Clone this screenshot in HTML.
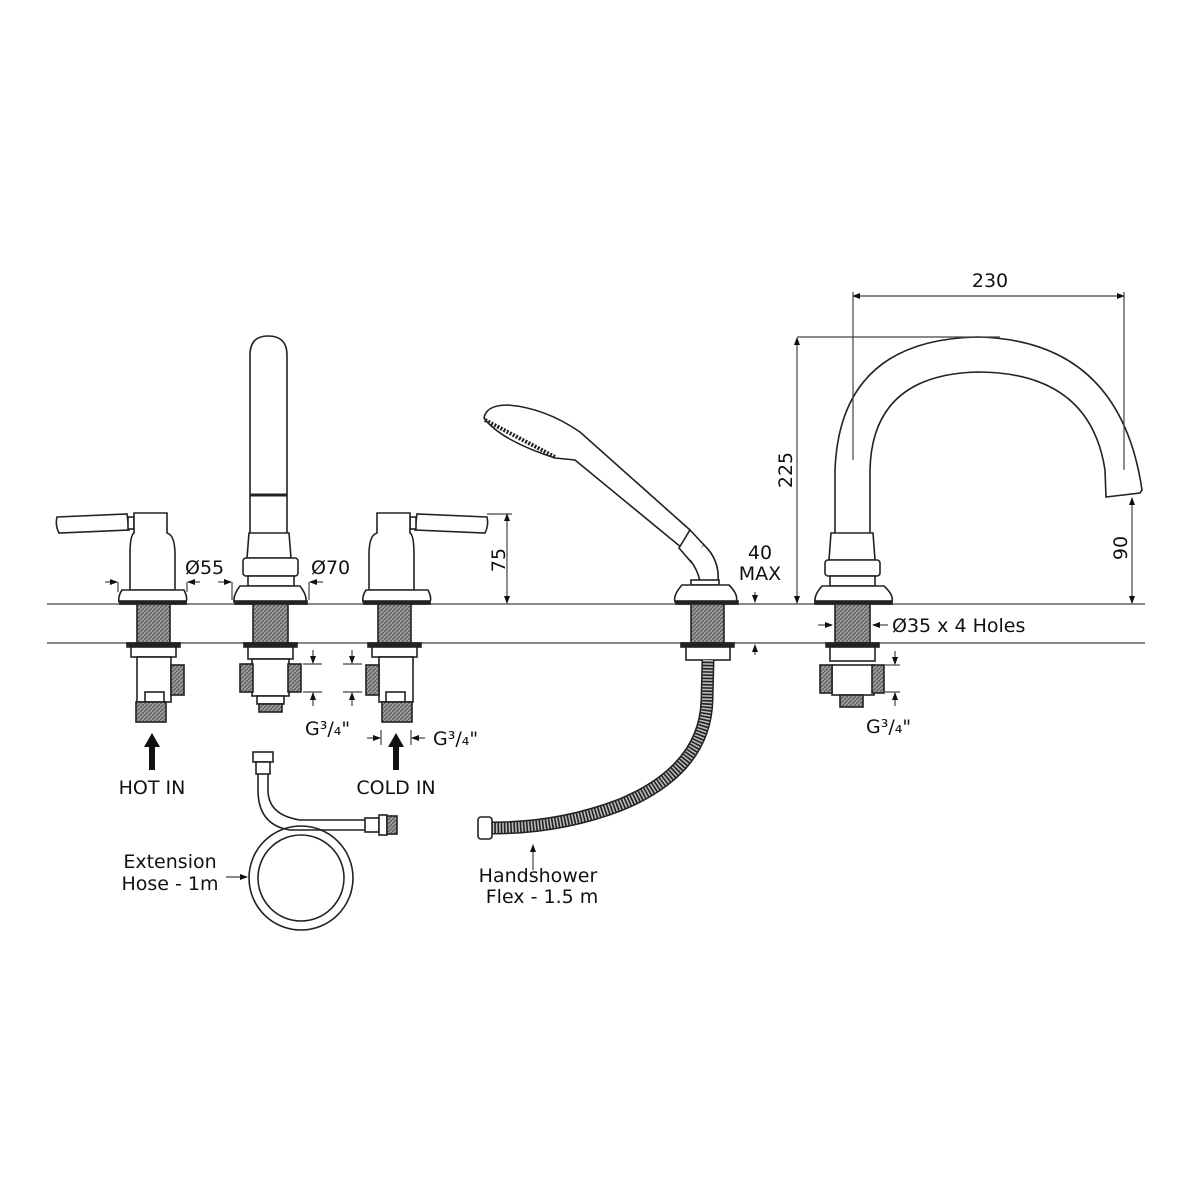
<!DOCTYPE html>
<html><head><meta charset="utf-8"><style>
html,body{margin:0;padding:0;background:#fff;}
svg{display:block;}
text{font-family:"DejaVu Sans","Liberation Sans",sans-serif;fill:#111;}
</style></head><body>
<svg width="1200" height="1200" viewBox="0 0 1200 1200" xmlns="http://www.w3.org/2000/svg">
<defs>
<pattern id="th" width="4" height="4" patternUnits="userSpaceOnUse"><rect width="4" height="4" fill="#999"/><path d="M0 4L4 0" stroke="#555" stroke-width="1"/></pattern>
<marker id="ar" markerWidth="8" markerHeight="8" refX="7" refY="4" orient="auto-start-reverse" markerUnits="userSpaceOnUse"><path d="M0 1L8 4L0 7Z" fill="#111"/></marker>
</defs>
<g stroke="#222" stroke-width="1.6" fill="none">
<line x1="47" y1="604" x2="1145" y2="604" stroke="#888" stroke-width="2"/>
<line x1="47" y1="643" x2="1145" y2="643" stroke="#888" stroke-width="2"/>

<g>
<path d="M57 517 L127 514 L129 530 L59 533 Q55 525 57 517Z" fill="#fff"/>
<rect x="128" y="517" width="6" height="12" fill="#fff"/>
<path d="M134 513 L167 513 L167 533 Q175 535 175 555 L175 590 L130 590 L130 555 Q130 535 134 533Z" fill="#fff"/>
<path d="M122 590 L184 590 Q188 598 186 602 L119 602 Q118 596 122 590Z" fill="#fff"/>
<rect x="120" y="601" width="66" height="3" fill="#222"/>
<rect x="137" y="604" width="33" height="39" fill="url(#th)"/>
<rect x="127" y="643" width="53" height="4" fill="#222"/>
<rect x="131" y="647" width="45" height="10" fill="#fff"/>
<rect x="137" y="657" width="34" height="45" fill="#fff"/>
<rect x="171" y="665" width="13" height="30" fill="url(#th)"/>
<rect x="145" y="692" width="19" height="10" fill="#fff"/>
<rect x="136" y="702" width="30" height="20" fill="url(#th)"/>
</g>

<g>
<path d="M250 533 L250 355 Q250 336 268 336 Q287 336 287 355 L287 533" fill="#fff"/>
<line x1="250" y1="495" x2="287" y2="495" stroke-width="3"/>
<path d="M249 533 L289 533 L291 558 L247 558Z" fill="#fff"/>
<rect x="243" y="558" width="55" height="18" rx="3" fill="#fff"/>
<rect x="248" y="576" width="46" height="10" fill="#fff"/>
<path d="M240 586 L300 586 Q307 595 306 602 L234 602 Q233 595 240 586Z" fill="#fff"/>
<rect x="235" y="601" width="72" height="3" fill="#222"/>
<rect x="253" y="604" width="35" height="39" fill="url(#th)"/>
<rect x="244" y="643" width="53" height="4" fill="#222"/>
<rect x="248" y="647" width="45" height="12" fill="#fff"/>
<rect x="252" y="659" width="37" height="37" fill="#fff"/>
<rect x="240" y="664" width="13" height="28" fill="url(#th)"/>
<rect x="288" y="664" width="13" height="28" fill="url(#th)"/>
<rect x="257" y="696" width="27" height="8" fill="#fff"/>
<rect x="259" y="704" width="23" height="8" fill="url(#th)"/>
</g>

<g>
<path d="M487 517 L417 514 L415 530 L485 533 Q489 525 487 517Z" fill="#fff"/>
<rect x="410" y="517" width="6" height="12" fill="#fff"/>
<path d="M410 513 L377 513 L377 533 Q369 535 369 555 L369 590 L414 590 L414 555 Q414 535 410 533Z" fill="#fff"/>
<path d="M366 590 L428 590 Q432 598 430 602 L363 602 Q362 596 366 590Z" fill="#fff"/>
<rect x="364" y="601" width="66" height="3" fill="#222"/>
<rect x="378" y="604" width="33" height="39" fill="url(#th)"/>
<rect x="368" y="643" width="53" height="4" fill="#222"/>
<rect x="372" y="647" width="45" height="10" fill="#fff"/>
<rect x="379" y="657" width="34" height="45" fill="#fff"/>
<rect x="366" y="665" width="13" height="30" fill="url(#th)"/>
<rect x="386" y="692" width="19" height="10" fill="#fff"/>
<rect x="382" y="702" width="30" height="20" fill="url(#th)"/>
</g>

<g>
<path d="M484 418 Q486 405 508 405 Q545 408 580 432 L690 530 L682 548 L575 460 L555 458 Q500 440 484 418Z" fill="#fff"/>
<path d="M485 420 L555 457" stroke-width="4" stroke-dasharray="2 1.5"/>
<path d="M690 530 L704 545 L692 563 L679 548Z" fill="#fff"/>
<path d="M704 545 Q720 560 718 582 L700 582 Q698 570 690 560" fill="#fff"/>
<rect x="691" y="580" width="28" height="5" fill="#fff"/>
<path d="M682 585 L729 585 Q739 595 736 602 L675 602 Q673 595 682 585Z" fill="#fff"/>
<rect x="676" y="601" width="62" height="3" fill="#222"/>
<rect x="691" y="604" width="33" height="39" fill="url(#th)"/>
<rect x="681" y="643" width="53" height="4" fill="#222"/>
<rect x="686" y="647" width="44" height="13" fill="#fff"/>
<path d="M708 660 L707 700 Q705 770 620 805 Q560 828 492 828" stroke="#222" stroke-width="13"/>
<path d="M708 660 L707 700 Q705 770 620 805 Q560 828 492 828" stroke="#bbb" stroke-width="10" stroke-dasharray="1.6 1.6"/>
<rect x="478" y="817" width="14" height="22" rx="3" fill="#fff"/>
</g>

<g>
<path d="M835 533 L835 470 Q840 340 977 337 Q1120 340 1142 490 L1140 493 L1106 497 L1105 470 Q1090 372 977 372 Q872 375 870 470 L870 533" fill="#fff"/>
<path d="M831 533 L873 533 L875 560 L829 560Z" fill="#fff"/>
<rect x="825" y="560" width="55" height="16" rx="3" fill="#fff"/>
<rect x="830" y="576" width="45" height="10" fill="#fff"/>
<path d="M822 586 L884 586 Q894 595 892 602 L815 602 Q814 595 822 586Z" fill="#fff"/>
<rect x="815" y="601" width="77" height="3" fill="#222"/>
<rect x="835" y="604" width="35" height="39" fill="url(#th)"/>
<rect x="826" y="643" width="53" height="4" fill="#222"/>
<rect x="830" y="647" width="45" height="14" fill="#fff"/>
<rect x="832" y="665" width="42" height="30" fill="#fff"/>
<rect x="820" y="665" width="12" height="28" fill="url(#th)"/>
<rect x="872" y="665" width="12" height="28" fill="url(#th)"/>
<rect x="840" y="695" width="23" height="12" fill="url(#th)"/>
</g>

<g>
<circle cx="301" cy="878" r="52" stroke-width="1.6"/>
<circle cx="301" cy="878" r="43" stroke-width="1.6"/>
<path d="M258 772 L258 790 Q258 825 290 830 L365 830" />
<path d="M268 772 L268 790 Q268 815 300 820 L365 820" />
<rect x="253" y="752" width="20" height="10" fill="#fff"/>
<rect x="256" y="762" width="14" height="12" fill="#fff"/>
<rect x="365" y="818" width="14" height="14" fill="#fff"/>
<rect x="379" y="815" width="8" height="20" fill="#fff"/>
<rect x="387" y="816" width="10" height="18" fill="url(#th)"/>
</g>
</g>

<g stroke="#444" stroke-width="1.2" fill="none">
<line x1="507" y1="514" x2="507" y2="603" marker-start="url(#ar)" marker-end="url(#ar)"/>
<line x1="487" y1="514" x2="512" y2="514"/>
<line x1="797" y1="338" x2="797" y2="603" marker-start="url(#ar)" marker-end="url(#ar)"/>
<line x1="797" y1="337" x2="1000" y2="337"/>
<line x1="853" y1="296" x2="1124" y2="296" marker-start="url(#ar)" marker-end="url(#ar)"/>
<line x1="853" y1="292" x2="853" y2="460"/>
<line x1="1124" y1="292" x2="1124" y2="470"/>
<line x1="1132" y1="498" x2="1132" y2="603" marker-start="url(#ar)" marker-end="url(#ar)"/>
<line x1="755" y1="592" x2="755" y2="602" marker-end="url(#ar)"/>
<line x1="755" y1="655" x2="755" y2="645" marker-end="url(#ar)"/>
<line x1="105" y1="582" x2="117" y2="582" marker-end="url(#ar)"/>
<line x1="118" y1="582" x2="118" y2="592"/>
<line x1="200" y1="582" x2="188" y2="582" marker-end="url(#ar)"/>
<line x1="187" y1="582" x2="187" y2="592"/>
<line x1="218" y1="582" x2="231" y2="582" marker-end="url(#ar)"/>
<line x1="232" y1="582" x2="232" y2="600"/>
<line x1="323" y1="582" x2="310" y2="582" marker-end="url(#ar)"/>
<line x1="309" y1="582" x2="309" y2="600"/>
<line x1="303" y1="664" x2="322" y2="664"/>
<line x1="303" y1="692" x2="322" y2="692"/>
<line x1="313" y1="650" x2="313" y2="663" marker-end="url(#ar)"/>
<line x1="313" y1="706" x2="313" y2="693" marker-end="url(#ar)"/>
<line x1="343" y1="664" x2="362" y2="664"/>
<line x1="343" y1="692" x2="362" y2="692"/>
<line x1="352" y1="650" x2="352" y2="663" marker-end="url(#ar)"/>
<line x1="352" y1="706" x2="352" y2="693" marker-end="url(#ar)"/>
<line x1="884" y1="665" x2="900" y2="665"/>
<line x1="884" y1="692" x2="900" y2="692"/>
<line x1="895" y1="651" x2="895" y2="664" marker-end="url(#ar)"/>
<line x1="895" y1="706" x2="895" y2="693" marker-end="url(#ar)"/>
<line x1="381" y1="730" x2="381" y2="745"/>
<line x1="411" y1="730" x2="411" y2="745"/>
<line x1="367" y1="738" x2="380" y2="738" marker-end="url(#ar)"/>
<line x1="425" y1="738" x2="412" y2="738" marker-end="url(#ar)"/>
<line x1="818" y1="625" x2="832" y2="625" marker-end="url(#ar)"/>
<line x1="888" y1="625" x2="873" y2="625" marker-end="url(#ar)"/>
<line x1="226" y1="877" x2="247" y2="877" marker-end="url(#ar)"/>
<line x1="533" y1="870" x2="533" y2="845" marker-end="url(#ar)"/>
</g>
<path d="M152 733 L144 747 L149 747 L149 770 L155 770 L155 747 L160 747Z" fill="#111"/>
<path d="M396 733 L388 747 L393 747 L393 770 L399 770 L399 747 L404 747Z" fill="#111"/>

<g font-size="19">
<text x="185" y="574">Ø55</text>
<text x="311" y="574">Ø70</text>
<text x="498" y="560" transform="rotate(-90 498 560)" text-anchor="middle" dy="7">75</text>
<text x="760" y="559" text-anchor="middle">40</text>
<text x="760" y="580" text-anchor="middle">MAX</text>
<text x="785" y="470" transform="rotate(-90 785 470)" text-anchor="middle" dy="7">225</text>
<text x="990" y="287" text-anchor="middle">230</text>
<text x="1120" y="548" transform="rotate(-90 1120 548)" text-anchor="middle" dy="7">90</text>
<text x="892" y="632">Ø35 x 4 Holes</text>
<text x="305" y="735">G³/₄"</text>
<text x="433" y="745">G³/₄"</text>
<text x="866" y="733">G³/₄"</text>
<text x="152" y="794" text-anchor="middle">HOT IN</text>
<text x="396" y="794" text-anchor="middle">COLD IN</text>
<text x="170" y="868" text-anchor="middle">Extension</text>
<text x="170" y="890" text-anchor="middle">Hose - 1m</text>
<text x="538" y="882" text-anchor="middle">Handshower</text>
<text x="542" y="903" text-anchor="middle">Flex - 1.5 m</text>
</g>
</svg>
</body></html>
